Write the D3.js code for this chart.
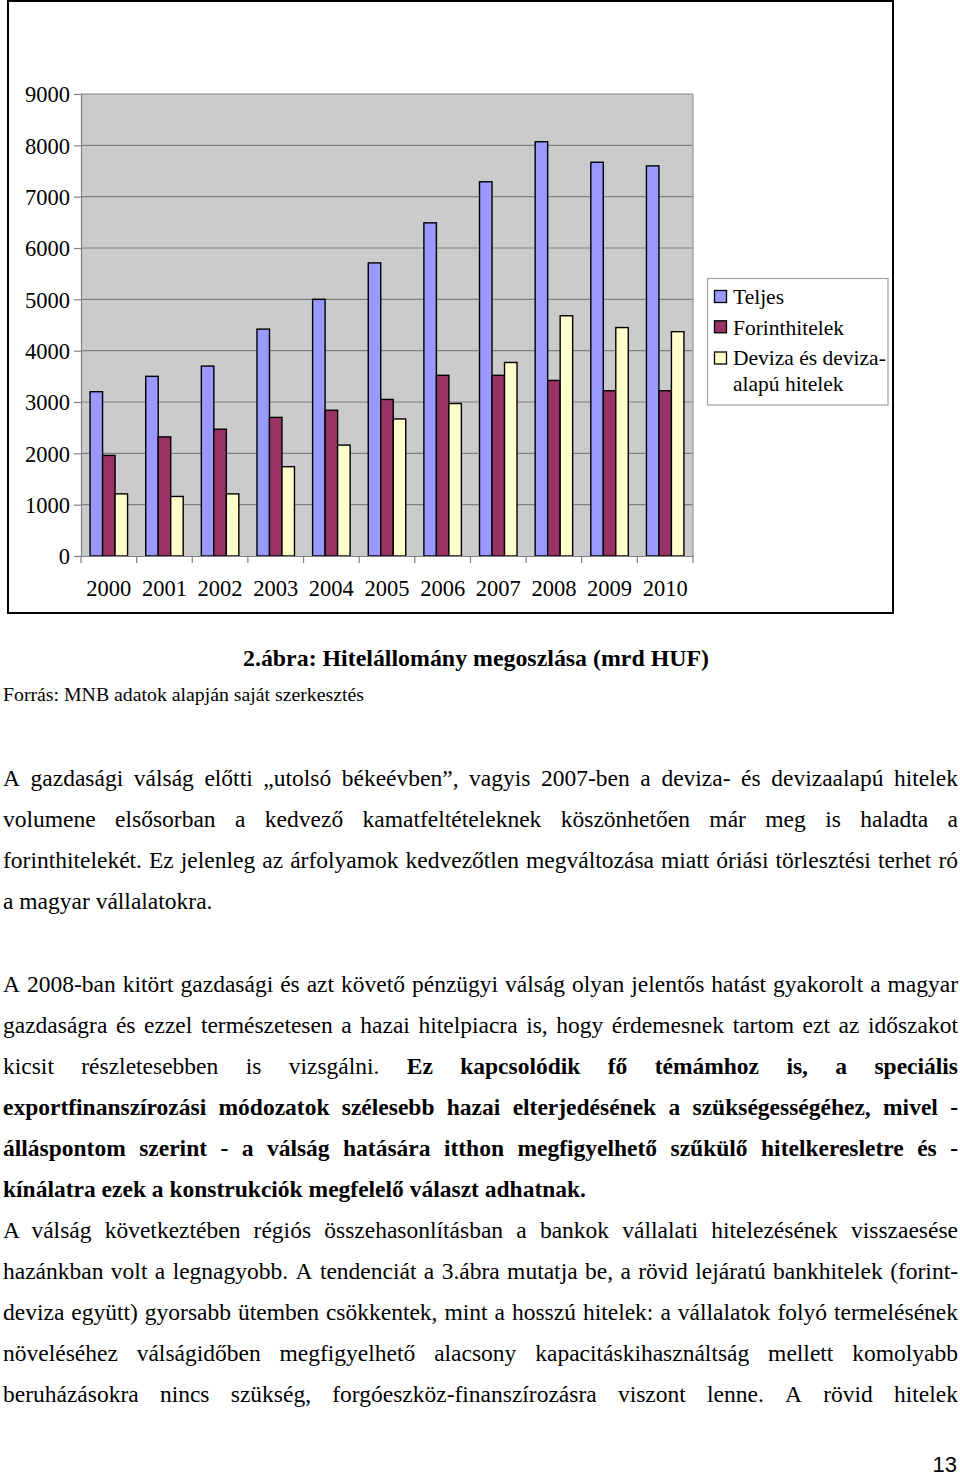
<!DOCTYPE html>
<html>
<head>
<meta charset="utf-8">
<script src="https://cdn.jsdelivr.net/npm/d3@7"></script>
<style>
  html, body { margin: 0; padding: 0; background: #fff; }
  svg { display: block; }
</style>
</head>
<body>
<svg id="page" width="960" height="1478"></svg>
<script>
// ---------------- DATA ----------------
const years = ["2000","2001","2002","2003","2004","2005","2006","2007","2008","2009","2010"];
const teljes = [3200, 3500, 3700, 4420, 5000, 5710, 6490, 7290, 8070, 7670, 7600];
const forinthitelek = [1960, 2320, 2470, 2700, 2840, 3050, 3520, 3520, 3420, 3220, 3220];
const deviza = [1210, 1160, 1210, 1740, 2160, 2670, 2970, 3770, 4680, 4450, 4370];
const seriesNames = ["Teljes", "Forinthitelek", "Deviza és deviza-alapú hitelek"];
const legendLines = [["Teljes"], ["Forinthitelek"], ["Deviza és deviza-", "alapú hitelek"]];
const seriesColors = ["#9999ff", "#993366", "#ffffcc"];
const yTicks = [0, 1000, 2000, 3000, 4000, 5000, 6000, 7000, 8000, 9000];

const captionText = "2.ábra: Hitelállomány megoszlása (mrd HUF)";
const sourceText = "Forrás: MNB adatok alapján saját szerkesztés";

// body text: each line = {y, justify, segs:[[text,bold]]}
const para1 = [
  {y: 786, j: true, segs: [["A gazdasági válság előtti „utolsó békeévben”, vagyis 2007-ben a deviza- és devizaalapú hitelek", false]]},
  {y: 827, j: true, segs: [["volumene elsősorban a kedvező kamatfeltételeknek köszönhetően már meg is haladta a", false]]},
  {y: 868, j: true, segs: [["forinthitelekét. Ez jelenleg az árfolyamok kedvezőtlen megváltozása miatt óriási törlesztési terhet ró", false]]},
  {y: 909, j: false, segs: [["a magyar vállalatokra.", false]]}
];
const para2 = [
  {y: 992, j: true, segs: [["A 2008-ban kitört gazdasági és azt követő pénzügyi válság olyan jelentős hatást gyakorolt a magyar", false]]},
  {y: 1033, j: true, segs: [["gazdaságra és ezzel természetesen a hazai hitelpiacra is, hogy érdemesnek tartom ezt az időszakot", false]]},
  {y: 1074, j: true, segs: [["kicsit részletesebben is vizsgálni.", false], ["Ez kapcsolódik fő témámhoz is, a speciális", true]]},
  {y: 1115, j: true, segs: [["exportfinanszírozási módozatok szélesebb hazai elterjedésének a szükségességéhez, mivel -", true]]},
  {y: 1156, j: true, segs: [["álláspontom szerint - a válság hatására itthon megfigyelhető szűkülő hitelkeresletre és -", true]]},
  {y: 1197, j: false, segs: [["kínálatra ezek a konstrukciók megfelelő választ adhatnak.", true]]}
];
const para3 = [
  {y: 1238, j: true, segs: [["A válság következtében régiós összehasonlításban a bankok vállalati hitelezésének visszaesése", false]]},
  {y: 1279, j: true, segs: [["hazánkban volt a legnagyobb. A tendenciát a 3.ábra mutatja be, a rövid lejáratú bankhitelek (forint-", false]]},
  {y: 1320, j: true, segs: [["deviza együtt) gyorsabb ütemben csökkentek, mint a hosszú hitelek: a vállalatok folyó termelésének", false]]},
  {y: 1361, j: true, segs: [["növeléséhez válságidőben megfigyelhető alacsony kapacitáskihasználtság mellett komolyabb", false]]},
  {y: 1402, j: true, segs: [["beruházásokra nincs szükség, forgóeszköz-finanszírozásra viszont lenne. A rövid hitelek", false]]}
];

// ---------------- CHART ----------------
const svg = d3.select("#page");
const serif = "'Liberation Serif', 'Times New Roman', serif";

// outer frame
svg.append("rect").attr("x", 8).attr("y", 1).attr("width", 885).attr("height", 612)
  .attr("fill", "#fff").attr("stroke", "#000").attr("stroke-width", 2);

const plot = {left: 81, right: 693, top: 94, bottom: 556};
const x = d3.scaleBand().domain(years).range([plot.left, plot.right]).paddingInner(0).paddingOuter(0);
const xInner = d3.scaleBand().domain(d3.range(3)).range([0, x.bandwidth()]).paddingInner(0).paddingOuter(0.726);
const y = d3.scaleLinear().domain([0, 9000]).range([plot.bottom, plot.top]);

// plot background
svg.append("rect").attr("x", plot.left).attr("y", plot.top)
  .attr("width", plot.right - plot.left).attr("height", plot.bottom - plot.top)
  .attr("fill", "#cbcbcb");

// gridlines
svg.append("g").selectAll("line").data(yTicks.filter(d => d > 0)).join("line")
  .attr("x1", plot.left).attr("x2", plot.right)
  .attr("y1", d => y(d)).attr("y2", d => y(d))
  .attr("stroke", "#808080").attr("stroke-width", 1.2);
// right edge
svg.append("line").attr("x1", plot.right).attr("x2", plot.right).attr("y1", plot.top).attr("y2", plot.bottom)
  .attr("stroke", "#9a9a9a").attr("stroke-width", 1.2);

// bars
const series = [teljes, forinthitelek, deviza];
const gBars = svg.append("g");
series.forEach((vals, si) => {
  gBars.append("g").selectAll("rect").data(vals).join("rect")
    .attr("x", (d, i) => x(years[i]) + xInner(si))
    .attr("y", d => y(d))
    .attr("width", xInner.bandwidth())
    .attr("height", d => y(0) - y(d))
    .attr("fill", seriesColors[si])
    .attr("stroke", "#000").attr("stroke-width", 1.4);
});

// y axis
const yAxis = d3.axisLeft(y).tickValues(yTicks).tickSize(7).tickPadding(4).tickFormat(d3.format("d"));
const gy = svg.append("g").attr("transform", `translate(${plot.left},0)`).call(yAxis);
gy.select(".domain").attr("stroke", "#808080").attr("stroke-width", 1.2);
gy.selectAll(".tick line").attr("stroke", "#808080").attr("stroke-width", 1.2);
gy.selectAll(".tick text").attr("font-family", serif).attr("font-size", 22.5).attr("fill", "#000").attr("dy", "0.35em");

// x axis
const xAxis = d3.axisBottom(x).tickSize(0).tickPadding(0);
const gx = svg.append("g").attr("transform", `translate(0,${plot.bottom})`).call(xAxis);
gx.select(".domain").attr("stroke", "#808080").attr("stroke-width", 1.2);
gx.selectAll(".tick text").attr("font-family", serif).attr("font-size", 22.5).attr("fill", "#000")
  .attr("y", 40).attr("dy", 0);
// category boundary tick marks
const boundaries = years.map(d => x(d)).concat([plot.right]);
gx.append("g").selectAll("line").data(boundaries).join("line")
  .attr("x1", d => d).attr("x2", d => d).attr("y1", 0).attr("y2", 7)
  .attr("stroke", "#808080").attr("stroke-width", 1.2);

// legend
const lg = svg.append("g");
lg.append("rect").attr("x", 707.5).attr("y", 278.5).attr("width", 180.5).attr("height", 126.5)
  .attr("fill", "#fff").attr("stroke", "#a0a0a0").attr("stroke-width", 1.2);
const legendSquareY = [290.5, 320.8, 352];
const legendBase = [[303.5], [334.5], [365, 391]];
seriesNames.forEach((name, i) => {
  lg.append("rect").attr("x", 714.5).attr("y", legendSquareY[i]).attr("width", 12).attr("height", 12)
    .attr("fill", seriesColors[i]).attr("stroke", "#000").attr("stroke-width", 1.3);
  legendLines[i].forEach((t, k) => {
    lg.append("text").attr("x", 733).attr("y", legendBase[i][k])
      .attr("font-family", serif).attr("font-size", 21.5).attr("fill", "#000").text(t);
  });
});

// caption + source
svg.append("text").attr("x", 243).attr("y", 666)
  .attr("font-family", serif).attr("font-weight", "bold").attr("font-size", 23.5)
  .attr("textLength", 466).attr("lengthAdjust", "spacingAndGlyphs").text(captionText);
svg.append("text").attr("x", 3).attr("y", 701)
  .attr("font-family", serif).attr("font-size", 19.5)
  .attr("textLength", 361).attr("lengthAdjust", "spacingAndGlyphs").text(sourceText);

// body text
const FS = 23.5, LEFT = 3, RIGHT = 958;
function drawLine(line) {
  const words = [];
  line.segs.forEach(([t, b]) => t.split(" ").filter(w => w.length).forEach(w => words.push({w, b})));
  const t = svg.append("text").attr("y", line.y).attr("font-family", serif).attr("font-size", FS).attr("fill", "#000");
  const spans = words.map(o => t.append("tspan").attr("font-weight", o.b ? "bold" : "normal").text(o.w));
  const widths = spans.map(s => s.node().getComputedTextLength());
  const total = d3.sum(widths);
  const gap = line.j ? (RIGHT - LEFT - total) / (words.length - 1) : FS * 0.25;
  let cx = LEFT;
  spans.forEach((s, i) => { s.attr("x", cx); cx += widths[i] + gap; });
}
[...para1, ...para2, ...para3].forEach(drawLine);

// page number
svg.append("text").attr("x", 957).attr("y", 1472).attr("text-anchor", "end")
  .attr("font-family", "'Liberation Sans', Arial, sans-serif").attr("font-size", 22).text("13");
</script>
</body>
</html>
